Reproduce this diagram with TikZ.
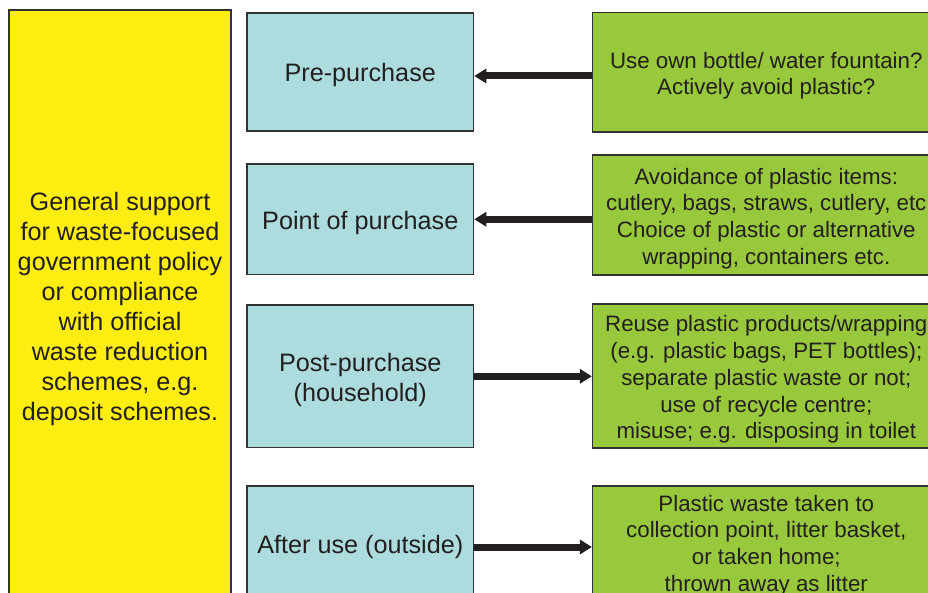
\documentclass[tikz,border=0pt]{standalone}
\usepackage{fontspec}
\setmainfont{Liberation Sans}
\usetikzlibrary{arrows.meta,calc}
\definecolor{ylw}{RGB}{253,237,16}
\definecolor{lblue}{RGB}{172,220,222}
\definecolor{lgreen}{RGB}{152,200,60}
\definecolor{ink}{RGB}{35,31,32}
\definecolor{edge}{RGB}{50,50,50}
\newcommand\btxt[1]{\raisebox{-4pt}[\height][\depth]{\begin{tabular}{@{}c@{}}#1\end{tabular}}}
\tikzset{
  box/.style={draw=edge, line width=1.5pt, inner sep=0pt, text=ink},
  ybox/.style={box, fill=ylw, font=\fontsize{25.2}{30.1}\selectfont},
  bbox/.style={box, fill=lblue, font=\fontsize{25.2}{30}\selectfont, minimum width=226.5pt},
  gbox/.style={box, fill=lgreen, font=\fontsize{22.3}{26.8}\selectfont, minimum width=347.3pt},
  arr/.style={draw=ink, line width=7pt, -{Triangle[length=12pt,width=14pt]}}
}
\begin{document}
\begin{tikzpicture}[x=1pt,y=-1pt]
\useasboundingbox (0,0) rectangle (928,593);
\clip (0,0) rectangle (928,593);
\fill[white] (0,0) rectangle (928,593);
\node[ybox, minimum width=222pt, minimum height=591pt] (y) at (120,305.5)
  {\btxt{General support\\for waste-focused\\government policy\\or compliance\\with official\\waste reduction\\schemes, e.g.\\deposit schemes.}};
\node[bbox, minimum height=118pt] (b1) at (360.25,72) {\btxt{Pre-purchase}};
\node[bbox, minimum height=110.5pt] (b2) at (360.25,219.25) {\btxt{Point of purchase}};
\node[bbox, minimum height=142.7pt] (b3) at (360.25,376.3) {\btxt{Post-purchase\\(household)}};
\node[bbox, minimum height=114pt] (b4) at (360.25,543) {\btxt{After use (outside)}};
\node[gbox, minimum height=119.7pt] (g1) at (766.3,72.2) {\btxt{Use own bottle/ water fountain?\\Actively avoid plastic?}};
\node[gbox, minimum height=120pt] (g2) at (766.3,215) {\btxt{Avoidance of plastic items:\\cutlery, bags, straws, cutlery, etc\\Choice of plastic or alternative\\wrapping, containers etc.}};
\node[gbox, minimum height=143.7pt] (g3) at (766.3,375.9) {\btxt{Reuse plastic products/wrapping\\(e.g. plastic bags, PET bottles);\\separate plastic waste or not;\\use of recycle centre;\\misuse; e.g. disposing in toilet}};
\node[gbox, minimum height=112pt] (g4) at (766.3,542) {\btxt{Plastic waste taken to\\collection point, litter basket,\\or taken home;\\thrown away as litter}};
\draw[arr] ($(g1.west)+(0,3.8)$) -- ($(b1.east)+(0,4)$);
\draw[arr] (g2.west |- b2.east) -- (b2.east);
\draw[arr] (b3.east) -- (g3.west |- b3.east);
\draw[arr] ($(b4.east)+(0,4)$) -- ($(g4.west |- b4.east)+(0,4)$);
\end{tikzpicture}
\end{document}
